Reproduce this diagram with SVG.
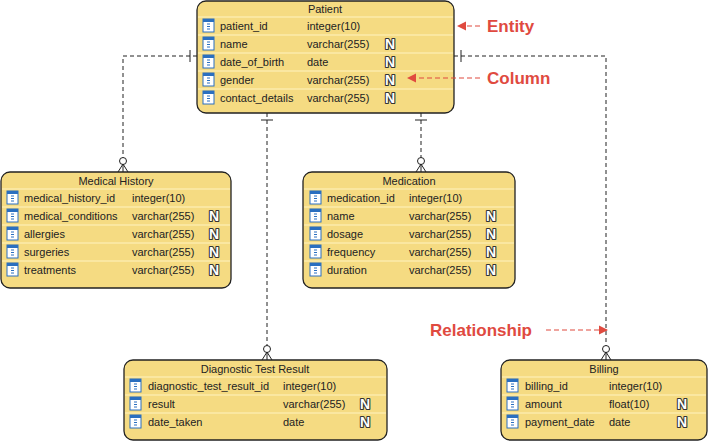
<svg xmlns="http://www.w3.org/2000/svg" width="708" height="442" viewBox="0 0 708 442">
<defs>
<style>
.box{fill:#f5db82;stroke:#222;stroke-width:1.3}
.sep{stroke:#fff3c0;stroke-width:1}
.t{font-family:"Liberation Sans",Arial,sans-serif;font-size:11px;fill:#222}
.h{font-family:"Liberation Sans",Arial,sans-serif;font-size:11px;fill:#222;text-anchor:middle}
.n{font-family:"Liberation Sans",Arial,sans-serif;font-size:14px;font-weight:bold;fill:#fff;stroke:#333;stroke-width:2.2;paint-order:stroke;stroke-linejoin:round}
.c{fill:none;stroke:#222;stroke-width:1;stroke-dasharray:4,3}
.tk{stroke:#222;stroke-width:1}
.ann{font-family:"Liberation Sans",Arial,sans-serif;font-size:17px;font-weight:bold;fill:#e04a3f}
.ar{stroke:#e04a3f;stroke-width:1.2;stroke-dasharray:5,3;fill:none}
</style>
<g id="ic"><rect x="0" y="0" width="11" height="13" fill="#fff" stroke="#2a6fc0"/><rect x="0" y="0" width="11" height="3" fill="#2a6fc0"/><path d="M4 5h3M4 7.5h3M4 10h3" stroke="#2a6fc0"/></g>
<marker id="ra" markerWidth="8" markerHeight="8" refX="7" refY="4" orient="auto"><path d="M0 0L8 4L0 8z" fill="#e04a3f"/></marker>
</defs>
<g id="connectors">
<path class="c" d="M197 56H123V158"/><path class="tk" d="M190 50v12"/><circle cx="123" cy="161" r="3.5" fill="#fff" stroke="#222"/><path class="tk" d="M123 164L118 172M123 164L128 172M123 164v8"/>
<path class="c" d="M267 113V346"/><path class="tk" d="M261 120h12"/><circle cx="267" cy="349" r="3.5" fill="#fff" stroke="#222"/><path class="tk" d="M267 352L262 360M267 352L272 360M267 352v8"/>
<path class="c" d="M421 113V158"/><path class="tk" d="M415 120h12"/><circle cx="421" cy="161" r="3.5" fill="#fff" stroke="#222"/><path class="tk" d="M421 164L416 172M421 164L426 172M421 164v8"/>
<path class="c" d="M454 56H606V346"/><path class="tk" d="M461 50v12"/><circle cx="606" cy="349" r="3.5" fill="#fff" stroke="#222"/><path class="tk" d="M606 352L601 360M606 352L611 360M606 352v8"/>
</g>
<g id="patient">
<rect class="box" x="197" y="1" width="257" height="112" rx="9"/>
<text class="h" x="325" y="13">Patient</text>
<path class="sep" d="M198 17H453M198 35H453M198 53H453M198 71H453M198 89H453"/>
<use href="#ic" x="203" y="19"/><text class="t" x="220" y="30">patient_id</text><text class="t" x="307" y="30">integer(10)</text>
<use href="#ic" x="203" y="37"/><text class="t" x="220" y="48">name</text><text class="t" x="307" y="48">varchar(255)</text><text class="n" x="385" y="49">N</text>
<use href="#ic" x="203" y="55"/><text class="t" x="220" y="66">date_of_birth</text><text class="t" x="307" y="66">date</text><text class="n" x="385" y="67">N</text>
<use href="#ic" x="203" y="73"/><text class="t" x="220" y="84">gender</text><text class="t" x="307" y="84">varchar(255)</text><text class="n" x="385" y="85">N</text>
<use href="#ic" x="203" y="91"/><text class="t" x="220" y="102">contact_details</text><text class="t" x="307" y="102">varchar(255)</text><text class="n" x="385" y="103">N</text>
</g>
<g id="medical_history">
<rect class="box" x="1" y="172" width="230" height="116" rx="9"/>
<text class="h" x="116" y="185">Medical History</text>
<path class="sep" d="M2 189H230M2 207H230M2 225H230M2 243H230M2 261H230"/>
<use href="#ic" x="7" y="191"/><text class="t" x="24" y="202">medical_history_id</text><text class="t" x="132" y="202">integer(10)</text>
<use href="#ic" x="7" y="209"/><text class="t" x="24" y="220">medical_conditions</text><text class="t" x="132" y="220">varchar(255)</text><text class="n" x="209" y="221">N</text>
<use href="#ic" x="7" y="227"/><text class="t" x="24" y="238">allergies</text><text class="t" x="132" y="238">varchar(255)</text><text class="n" x="209" y="239">N</text>
<use href="#ic" x="7" y="245"/><text class="t" x="24" y="256">surgeries</text><text class="t" x="132" y="256">varchar(255)</text><text class="n" x="209" y="257">N</text>
<use href="#ic" x="7" y="263"/><text class="t" x="24" y="274">treatments</text><text class="t" x="132" y="274">varchar(255)</text><text class="n" x="209" y="275">N</text>
</g>
<g id="medication">
<rect class="box" x="303" y="172" width="212" height="116" rx="9"/>
<text class="h" x="409" y="185">Medication</text>
<path class="sep" d="M304 189H514M304 207H514M304 225H514M304 243H514M304 261H514"/>
<use href="#ic" x="310" y="191"/><text class="t" x="327" y="202">medication_id</text><text class="t" x="409" y="202">integer(10)</text>
<use href="#ic" x="310" y="209"/><text class="t" x="327" y="220">name</text><text class="t" x="409" y="220">varchar(255)</text><text class="n" x="486" y="221">N</text>
<use href="#ic" x="310" y="227"/><text class="t" x="327" y="238">dosage</text><text class="t" x="409" y="238">varchar(255)</text><text class="n" x="486" y="239">N</text>
<use href="#ic" x="310" y="245"/><text class="t" x="327" y="256">frequency</text><text class="t" x="409" y="256">varchar(255)</text><text class="n" x="486" y="257">N</text>
<use href="#ic" x="310" y="263"/><text class="t" x="327" y="274">duration</text><text class="t" x="409" y="274">varchar(255)</text><text class="n" x="486" y="275">N</text>
</g>
<g id="diagnostic_test_result">
<rect class="box" x="124" y="360" width="263" height="80" rx="9"/>
<text class="h" x="255" y="373">Diagnostic Test Result</text>
<path class="sep" d="M125 377H386M125 395H386M125 413H386"/>
<use href="#ic" x="130" y="379"/><text class="t" x="148" y="390">diagnostic_test_result_id</text><text class="t" x="283" y="390">integer(10)</text>
<use href="#ic" x="130" y="397"/><text class="t" x="148" y="408">result</text><text class="t" x="283" y="408">varchar(255)</text><text class="n" x="360" y="409">N</text>
<use href="#ic" x="130" y="415"/><text class="t" x="148" y="426">date_taken</text><text class="t" x="283" y="426">date</text><text class="n" x="360" y="427">N</text>
</g>
<g id="billing">
<rect class="box" x="501" y="360" width="206" height="80" rx="9"/>
<text class="h" x="604" y="373">Billing</text>
<path class="sep" d="M502 377H706M502 395H706M502 413H706"/>
<use href="#ic" x="507" y="379"/><text class="t" x="525" y="390">billing_id</text><text class="t" x="609" y="390">integer(10)</text>
<use href="#ic" x="507" y="397"/><text class="t" x="525" y="408">amount</text><text class="t" x="609" y="408">float(10)</text><text class="n" x="677" y="409">N</text>
<use href="#ic" x="507" y="415"/><text class="t" x="525" y="426">payment_date</text><text class="t" x="609" y="426">date</text><text class="n" x="677" y="427">N</text>
</g>
<g id="annotations">
<text class="ann" x="487" y="32">Entity</text><path class="ar" d="M480 26H458" marker-end="url(#ra)"/>
<text class="ann" x="487" y="84">Column</text><path class="ar" d="M480 78H408" marker-end="url(#ra)"/>
<text class="ann" x="430" y="336">Relationship</text><path class="ar" d="M546 330H607" marker-end="url(#ra)"/>
</g>
</svg>
